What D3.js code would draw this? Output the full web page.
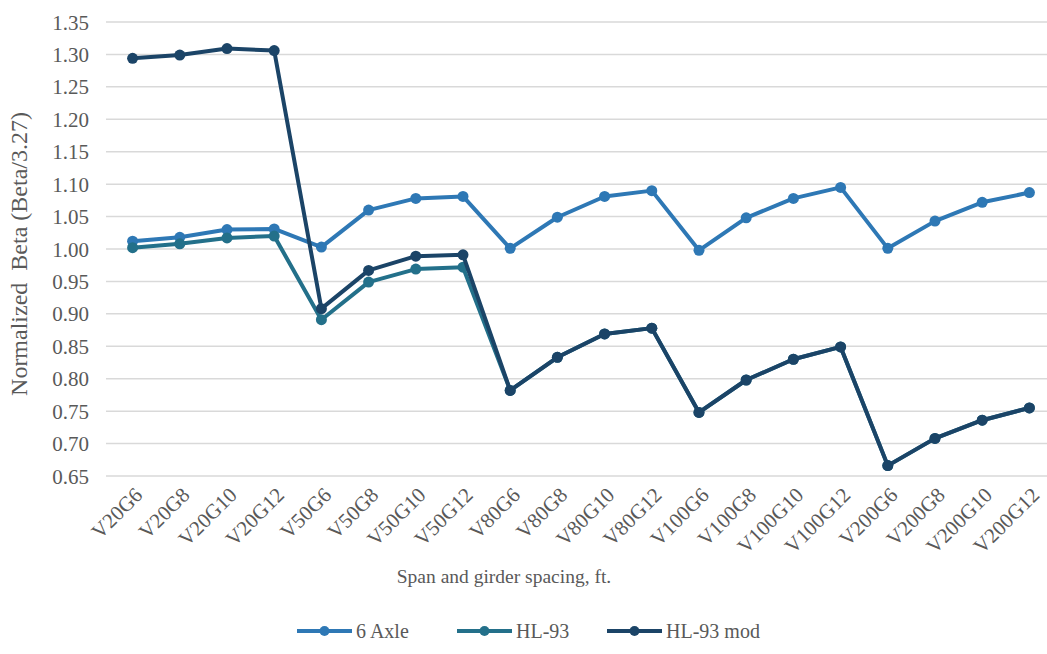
<!DOCTYPE html>
<html>
<head>
<meta charset="utf-8">
<script src="https://cdn.jsdelivr.net/npm/d3@7"></script>
<style>
  html, body { margin: 0; padding: 0; background: #fff; }
  svg { display: block; }
  svg text { font-family: "Liberation Serif", "Times New Roman", serif; white-space: pre; }
</style>
</head>
<body>
<svg id="chart" width="1047" height="654"></svg>
<script>
// Span / girder-spacing cases
const categories = ["V20G6","V20G8","V20G10","V20G12","V50G6","V50G8","V50G10","V50G12",
  "V80G6","V80G8","V80G10","V80G12","V100G6","V100G8","V100G10","V100G12",
  "V200G6","V200G8","V200G10","V200G12"];

// Normalized beta (Beta/3.27) per load model
const sixAxle = [1.012,1.018,1.030,1.031,1.003,1.060,1.078,1.081,
  1.001,1.049,1.081,1.090,0.998,1.048,1.078,1.095,
  1.001,1.043,1.072,1.087];
const hl93 = [1.002,1.008,1.017,1.020,0.891,0.949,0.969,0.972,
  0.782,0.833,0.869,0.878,0.748,0.798,0.830,0.849,
  0.666,0.708,0.736,0.755];
const hl93mod = [1.294,1.299,1.309,1.306,0.908,0.967,0.989,0.991,
  0.782,0.833,0.869,0.878,0.748,0.798,0.830,0.849,
  0.666,0.708,0.736,0.755];

const seriesNames = ["6 Axle","HL-93","HL-93 mod"];
const seriesColors = ["#2e78b5","#23708a","#1b4467"];
const yTicks = [0.65,0.70,0.75,0.80,0.85,0.90,0.95,1.00,1.05,1.10,1.15,1.20,1.25,1.30,1.35];

const series = [sixAxle, hl93, hl93mod].map((vals, i) => ({
  name: seriesNames[i], color: seriesColors[i],
  points: vals.map((v, j) => ({ cat: categories[j], v }))
}));

const svg = d3.select("#chart");
const W = 1047;

const x = d3.scaleBand().domain(categories).range([109, 1053]);
const y = d3.scaleLinear().domain([0.65, 1.35]).range([476, 22]);
const cx = c => x(c) + x.bandwidth() / 2;

// horizontal gridlines
svg.append("g").selectAll("line").data(yTicks).join("line")
  .attr("x1", 106).attr("x2", W)
  .attr("y1", d => y(d)).attr("y2", d => y(d))
  .attr("stroke", "#d9d9d9").attr("stroke-width", 1.5);

// y tick labels
svg.append("g").selectAll("text").data(yTicks).join("text")
  .attr("x", 89).attr("y", d => y(d)).attr("dy", "0.36em")
  .attr("text-anchor", "end")
  .attr("font-size", 21).attr("fill", "#595959")
  .text(d => d.toFixed(2));

// x tick labels, rotated
svg.append("g").selectAll("text").data(categories).join("text")
  .attr("transform", d => `translate(${cx(d) + 6},${491}) rotate(-45)`)
  .attr("text-anchor", "end").attr("dy", "0.35em")
  .attr("font-size", 21).attr("fill", "#595959")
  .text(d => d);

// axis titles
svg.append("text")
  .attr("transform", "translate(27,254) rotate(-90)")
  .attr("text-anchor", "middle")
  .attr("font-size", 24).attr("fill", "#595959")
  .text("Normalized  Beta (Beta/3.27)");

svg.append("text")
  .attr("x", 504).attr("y", 583)
  .attr("text-anchor", "middle")
  .attr("font-size", 19.5).attr("fill", "#595959")
  .text("Span and girder spacing, ft.");

// series lines and markers
const line = d3.line().x(d => cx(d.cat)).y(d => y(d.v));
const gS = svg.append("g");
series.forEach(s => {
  const g = gS.append("g");
  g.append("path").datum(s.points)
    .attr("d", line).attr("fill", "none")
    .attr("stroke", s.color).attr("stroke-width", 4)
    .attr("stroke-linejoin", "round").attr("stroke-linecap", "round");
  g.selectAll("circle").data(s.points).join("circle")
    .attr("cx", d => cx(d.cat)).attr("cy", d => y(d.v))
    .attr("r", 5.5).attr("fill", s.color);
});

// legend
const legendX = [297, 457, 607];
const lg = svg.append("g");
series.forEach((s, i) => {
  const g = lg.append("g").attr("transform", `translate(${legendX[i]},631)`);
  g.append("line").attr("x1", 0).attr("x2", 55)
    .attr("stroke", s.color).attr("stroke-width", 4);
  g.append("circle").attr("cx", 27.5).attr("r", 5).attr("fill", s.color);
  g.append("text").attr("x", 59).attr("dy", "0.35em")
    .attr("font-size", 20).attr("fill", "#595959").text(s.name);
});
</script>
</body>
</html>
